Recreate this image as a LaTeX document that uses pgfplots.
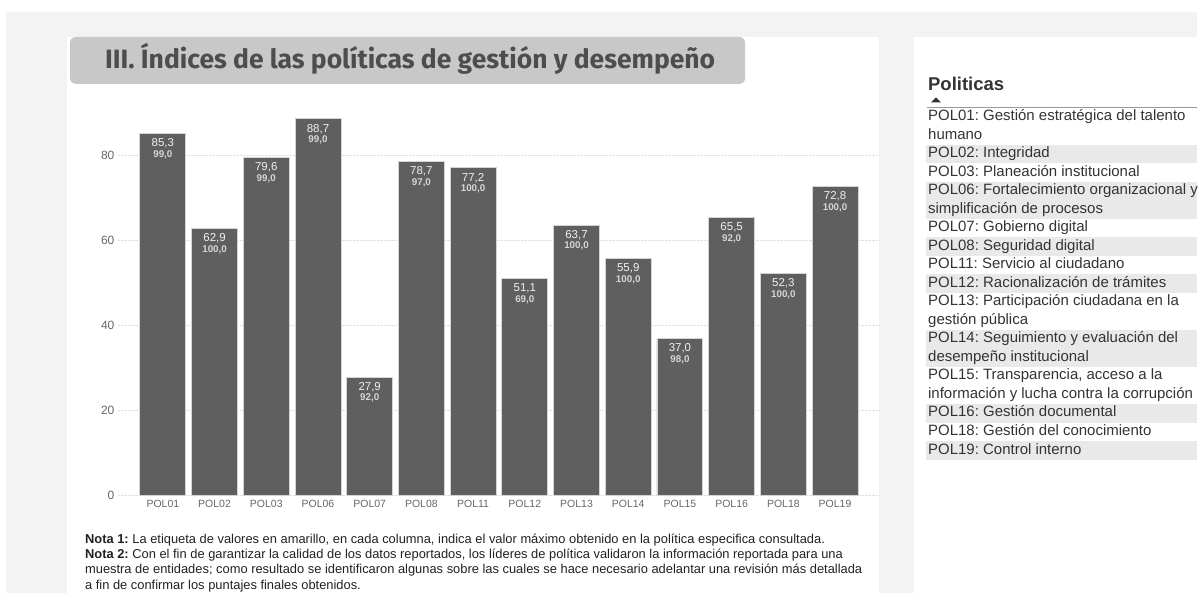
\documentclass[border=0pt]{standalone}
\usepackage{fontspec}
\setmainfont{Liberation Sans}
\newfontfamily\titlefont{Fira Sans}
\usepackage{pgfplots}
\pgfplotsset{compat=1.18}
\usepackage{pgfplotstable}
\frenchspacing
\definecolor{bgc}{HTML}{F3F3F3}
\definecolor{barc}{HTML}{5F5F5F}
\definecolor{barb}{HTML}{D4D4D4}
\definecolor{titlebox}{HTML}{C8C8C8}
\definecolor{titlec}{HTML}{4D4D4D}
\definecolor{tickc}{HTML}{666666}
\definecolor{labA}{HTML}{F0F0F0}
\definecolor{labB}{HTML}{D6D6D6}
\definecolor{legc}{HTML}{333333}
\definecolor{rowsh}{HTML}{E9E9E9}
\definecolor{notec}{HTML}{222222}

\pgfplotstableread{
x val max
0 85.3 99.0
1 62.9 100.0
2 79.6 99.0
3 88.7 99.0
4 27.9 92.0
5 78.7 97.0
6 77.2 100.0
7 51.1 69.0
8 63.7 100.0
9 55.9 100.0
10 37.0 98.0
11 65.5 92.0
12 52.3 100.0
13 72.8 100.0
}\datatable

\begin{document}
\frenchspacing
\begin{tikzpicture}[x=1pt,y=1pt]
% backgrounds
\fill[white] (0,0) rectangle (1198,594);
\fill[bgc] (6,0) rectangle (1198,582);
\fill[white] (67,0) rectangle (880,557);
\fill[white] (915,0) rectangle (1198,557);
\fill[titlebox, rounded corners=6pt] (70,510) rectangle (746,557);
\node[anchor=mid west, inner sep=0, text=titlec, font=\titlefont\bfseries\fontsize{26.5}{30}\selectfont] at (105,528) {III. Índices de las políticas de gestión y desempeño};

\begin{axis}[
  at={(118pt,98pt)}, anchor=south west,
  width=762pt, height=382.5pt, scale only axis,
  xmin=-0.87, xmax=13.85, ymin=0, ymax=90,
  ybar, bar width=46pt,
  axis line style={draw=none}, major tick length=0pt,
  ytick={0,20,40,60,80},
  /pgf/number format/assume math mode=true,
  ymajorgrids, major grid style={densely dotted, color=black!12, line width=0.8pt},
  xtick=data,
  xticklabels={POL01,POL02,POL03,POL06,POL07,POL08,POL11,POL12,POL13,POL14,POL15,POL16,POL18,POL19},
  x tick label style={font=\fontsize{10.5}{12}\selectfont, text=tickc, yshift=-1pt},
  y tick label style={font=\fontsize{12}{14}\selectfont, text=tickc},
  nodes near coords={{\fontsize{11.5}{11.5}\selectfont\color{labA}\pgfmathprintnumber[fixed,fixed zerofill,precision=1,use comma,assume math mode=true]{\pgfplotspointmeta}}\\[-1.5pt]{\fontsize{9.8}{10}\selectfont\bfseries\color{labB}\pgfmathprintnumber[fixed,fixed zerofill,precision=1,use comma,assume math mode=true]{\maxv}}},
  nodes near coords align={below},
  every node near coord/.append style={align=center, inner sep=0pt, yshift=-5pt},
  visualization depends on={\thisrow{max} \as \maxv},
]
\addplot[fill=barc, draw=barb, line width=0.9pt] table[x=x, y=val] {\datatable};
\end{axis}

% legend panel
\node[anchor=mid west, inner sep=0, text=legc, font=\bfseries\fontsize{18.5}{20}\selectfont] at (929,506) {Politicas};
\fill[legc] (932,491.5) -- (942,491.5) -- (937,496.5) -- cycle;
\draw[black!40, line width=0.8pt] (928,486) -- (1198,486);
\foreach \a/\n in {2/1,4/2,7/1,9/1,12/2,16/1,18/1}{
  \fill[rowsh] (927,{594-107.7-18.55*\a}) rectangle (1198,{594-107.7-18.55*(\a+\n)});
}
\foreach \k/\t in {
 0/{POL01: Gestión estratégica del talento},
 1/{humano},
 2/{POL02: Integridad},
 3/{POL03: Planeación institucional},
 4/{POL06: Fortalecimiento organizacional y},
 5/{simplificación de procesos},
 6/{POL07: Gobierno digital},
 7/{POL08: Seguridad digital},
 8/{POL11: Servicio al ciudadano},
 9/{POL12: Racionalización de trámites},
 10/{POL13: Participación ciudadana en la},
 11/{gestión pública},
 12/{POL14: Seguimiento y evaluación del},
 13/{desempeño institucional},
 14/{POL15: Transparencia, acceso a la},
 15/{información y lucha contra la corrupción},
 16/{POL16: Gestión documental},
 17/{POL18: Gestión del conocimiento},
 18/{POL19: Control interno}}{
  \node[anchor=mid west, inner sep=0, text=legc, font=\fontsize{15}{17}\selectfont] at (929,{476-18.55*\k}) {\t};
}

% notes
\begin{scope}[every node/.style={anchor=mid west, inner sep=0, text=notec, font=\fontsize{12.9}{14}\selectfont}]
\node at (85,53) {\textbf{Nota 1:} La etiqueta de valores en amarillo, en cada columna, indica el valor máximo obtenido en la política especifica consultada.};
\node at (85,37.5) {\textbf{Nota 2:} Con el fin de garantizar la calidad de los datos reportados, los líderes de política validaron la información reportada para una};
\node at (85,22) {muestra de entidades; como resultado se identificaron algunas sobre las cuales se hace necesario adelantar una revisión más detallada};
\node at (85,6.5) {a fin de confirmar los puntajes finales obtenidos.};
\end{scope}
\end{tikzpicture}
\end{document}
